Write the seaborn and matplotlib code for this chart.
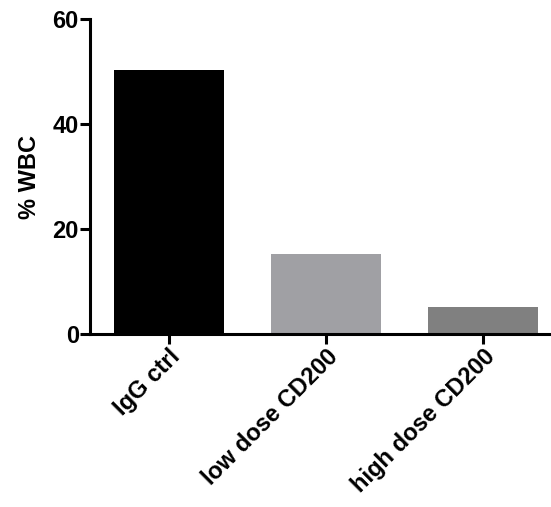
import matplotlib
matplotlib.use("Agg")
import matplotlib.pyplot as plt
import seaborn as sns
import pandas as pd

groups = ["IgG ctrl", "low dose CD200", "high dose CD200"]
wbc_pct = [50.3, 15.2, 5.1]
bar_colors = ["#000000", "#A0A0A4", "#808080"]

df = pd.DataFrame({"group": groups, "wbc": wbc_pct})

sns.set_style("ticks")
plt.rcParams['font.family'] = ['Liberation Sans', 'DejaVu Sans']
plt.rcParams['font.weight'] = 'bold'
plt.rcParams['text.color'] = 'black'
plt.rcParams['axes.labelcolor'] = 'black'
plt.rcParams['xtick.color'] = 'black'
plt.rcParams['ytick.color'] = 'black'

fig = plt.figure(figsize=(5.51, 5.07), dpi=100)
ax = fig.add_axes([0.1633, 0.3412, 0.8367, 0.6213])

sns.barplot(data=df, x="group", y="wbc", hue="group", palette=bar_colors,
            width=0.7, legend=False, ax=ax, linewidth=0, saturation=1)

ax.set_ylim(0, 60)
ax.set_yticks([0, 20, 40, 60])
ax.set_xlim(-0.5, 2.43)

ax.set_xlabel("")
ax.set_ylabel("% WBC", fontsize=17, fontweight='bold', labelpad=8)

sns.despine(ax=ax)
for side in ["left", "bottom"]:
    ax.spines[side].set_linewidth(2.2)
    ax.spines[side].set_color("black")

ax.tick_params(axis='both', width=2.2, length=7, color='black',
               labelcolor='black', labelsize=17, pad=1)
plt.setp(ax.get_xticklabels(), rotation=45, ha='right',
         rotation_mode='anchor', fontweight='bold')
plt.setp(ax.get_yticklabels(), fontweight='bold')

fig.savefig("out.png", dpi=100)
